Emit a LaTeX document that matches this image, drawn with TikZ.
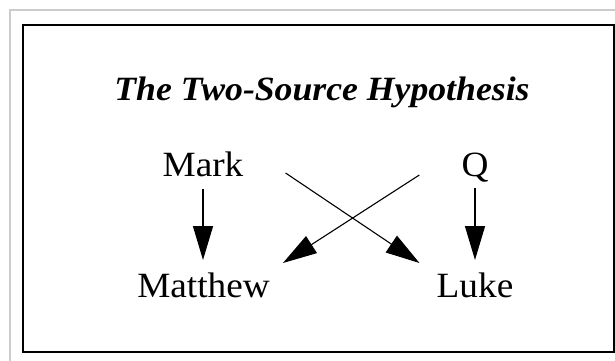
\documentclass[tikz,border=0pt]{standalone}
\usepackage{fontspec}
\setmainfont{Liberation Serif}[FakeStretch=1.05]
\usetikzlibrary{arrows.meta,calc,positioning}
\definecolor{framegray}{RGB}{204,204,204}

\begin{document}
\begin{tikzpicture}[x=1pt,y=-1pt,>={Triangle[length=34pt,width=20pt]},
  gospel/.style={inner sep=0pt,anchor=base,font=\fontsize{35.5}{40}\selectfont},
  arr/.style={->,line width=1.3pt}]
\useasboundingbox (0,0) rectangle (615,360);
% frames
\draw[framegray,line width=2pt] (10,361) -- (10,10) -- (616,10);
\draw[line width=2.5pt] (23,25) rectangle (614.5,352);
% title
\node[gospel,font=\fontsize{34}{40}\selectfont\bfseries\itshape] (title) at (322,100) {The Two-Source Hypothesis};
% sources (top) and gospels (bottom)
\node[gospel] (mark) at (203,176) {Mark};
\node[gospel] (q) at (475,176) {Q};
\node[gospel] (matthew) at (203.5,297) {Matthew};
\node[gospel] (luke) at (475,297) {Luke};
% straight down
\draw[arr,shorten <=13pt,shorten >=37pt] (mark.base) -- (mark.base |- matthew.base);
\draw[arr,shorten <=12pt,shorten >=37pt] (q.base) -- (q.base |- luke.base);
% crossing
\draw[arr,line width=1.1pt] ($(mark.base east)+(42,-3)$) -- ($(luke.base west)+(-17,-34)$);
\draw[arr,line width=1.1pt] ($(q.base west)+(-42,-1)$) -- ($(matthew.base east)+(13,-34)$);
\end{tikzpicture}
\end{document}
